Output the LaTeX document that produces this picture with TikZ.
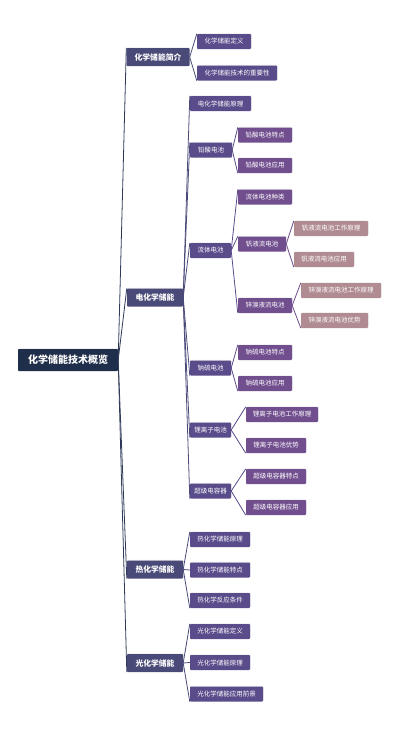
\documentclass[tikz,border=0pt]{standalone}
\usepackage{fontspec}
\newfontfamily\cjk{Noto Sans CJK SC}
\usetikzlibrary{shadows}
\definecolor{cRoot}{HTML}{1F2E4A}
\definecolor{cLone}{HTML}{4A4A78}
\definecolor{cLtwo}{HTML}{5A4B8A}
\definecolor{cLthree}{HTML}{714E8E}
\definecolor{cLfour}{HTML}{B08B92}
\definecolor{lkRoot}{HTML}{2E3A58}
\tikzset{
  box/.style={inner sep=0pt, text=white, rounded corners=0.8pt,
    drop shadow={opacity=0.15, shadow xshift=0.6pt, shadow yshift=0.6pt}},
  rootbox/.style={box, fill=cRoot, minimum height=22pt, font=\cjk\bfseries\fontsize{10}{12}\selectfont},
  lone/.style={box, fill=cLone, minimum height=18pt, font=\cjk\bfseries\fontsize{7.8}{9}\selectfont},
  ltwo/.style={box, fill=cLtwo, minimum height=15pt, font=\cjk\fontsize{6.5}{8}\selectfont},
  lthree/.style={box, fill=cLthree, minimum height=15pt, font=\cjk\fontsize{6.5}{8}\selectfont},
  lfour/.style={box, fill=cLfour, minimum height=15pt, font=\cjk\fontsize{6.5}{8}\selectfont},
  link/.style={line width=0.8pt},
  linkroot/.style={link, draw=lkRoot},
  linkone/.style={link, draw=cLone},
  linktwo/.style={link, draw=cLtwo},
  linkthree/.style={link, draw=cLthree}
}
\newcommand\mnode[6]{\node[#1, minimum width=#5pt] (#2) at (#3,#4) {#6};}
\begin{document}
\begin{tikzpicture}[x=1pt,y=-1pt]
\useasboundingbox[fill=white] (0,0) rectangle (400,736);
% root
\mnode{rootbox}{root}{68}{360}{100}{化学储能技术概览}
% level 1
\mnode{lone}{a}{158}{57}{63}{化学储能简介}
\mnode{lone}{b}{155}{297.5}{56}{电化学储能}
\mnode{lone}{c}{155}{569.5}{56}{热化学储能}
\mnode{lone}{d}{155}{663}{56}{光化学储能}
% level 2
\mnode{ltwo}{a1}{224}{41.5}{54}{化学储能定义}
\mnode{ltwo}{a2}{237}{73}{80}{化学储能技术的重要性}
\mnode{ltwo}{b1}{220.5}{103.5}{61}{电化学储能原理}
\mnode{ltwo}{b2}{211}{150}{42}{铅酸电池}
\mnode{ltwo}{b3}{210.5}{250.5}{41}{流体电池}
\mnode{ltwo}{b4}{210.5}{368}{41}{钠硫电池}
\mnode{ltwo}{b5}{210.5}{430}{41}{锂离子电池}
\mnode{ltwo}{b6}{210.5}{491}{41}{超级电容器}
\mnode{ltwo}{c1}{220}{539.5}{60}{热化学储能原理}
\mnode{ltwo}{c2}{220}{570}{60}{热化学储能特点}
\mnode{ltwo}{c3}{220}{600.5}{60}{热化学反应条件}
\mnode{ltwo}{d1}{220}{631.5}{60}{光化学储能定义}
\mnode{ltwo}{d2}{220}{662.5}{60}{光化学储能原理}
\mnode{ltwo}{d3}{226.5}{694}{73}{光化学储能应用前景}
% level 3
\mnode{lthree}{b21}{265}{135}{54}{铅酸电池特点}
\mnode{lthree}{b22}{265}{165.5}{54}{铅酸电池应用}
\mnode{lthree}{b31}{265}{197}{54}{流体电池种类}
\mnode{lthree}{b32}{262}{244}{48}{钒液流电池}
\mnode{lthree}{b33}{265}{305.5}{54}{锌溴液流电池}
\mnode{lthree}{b41}{265}{352.5}{54}{钠硫电池特点}
\mnode{lthree}{b42}{265}{383.5}{54}{钠硫电池应用}
\mnode{lthree}{b51}{282}{414.5}{72}{锂离子电池工作原理}
\mnode{lthree}{b52}{276}{445.5}{60}{锂离子电池优势}
\mnode{lthree}{b61}{276}{476.5}{60}{超级电容器特点}
\mnode{lthree}{b62}{276}{507.5}{60}{超级电容器应用}
% level 4
\mnode{lfour}{b321}{331}{228.5}{74}{钒液流电池工作原理}
\mnode{lfour}{b322}{324}{259.5}{60}{钒液流电池应用}
\mnode{lfour}{b331}{341}{290.5}{80}{锌溴液流电池工作原理}
\mnode{lfour}{b332}{334.5}{320.5}{67}{锌溴液流电池优势}
% connectors: root
\draw[linkroot] (root.east) -- (a.north west);
\draw[linkroot] (root.east) -- (b.north west);
\draw[linkroot] (root.east) -- (c.south west);
\draw[linkroot] (root.east) -- (d.south west);
% level 1 -> 2
\draw[linkone] (a.east) -- (a1.north west);
\draw[linkone] (a.east) -- (a2.south west);
\draw[linkone] (b.east) -- (b1.north west);
\draw[linkone] (b.east) -- (b2.north west);
\draw[linkone] (b.east) -- (b3.north west);
\draw[linkone] (b.east) -- (b4.south west);
\draw[linkone] (b.east) -- (b5.south west);
\draw[linkone] (b.east) -- (b6.south west);
\draw[linkone] (c.east) -- (c1.north west);
\draw[linkone] (c.east) -- (c2.west);
\draw[linkone] (c.east) -- (c3.south west);
\draw[linkone] (d.east) -- (d1.north west);
\draw[linkone] (d.east) -- (d2.west);
\draw[linkone] (d.east) -- (d3.south west);
% level 2 -> 3
\draw[linktwo] (b2.east) -- (b21.north west);
\draw[linktwo] (b2.east) -- (b22.south west);
\draw[linktwo] (b3.east) -- (b31.north west);
\draw[linktwo] (b3.east) -- (b32.north west);
\draw[linktwo] (b3.east) -- (b33.south west);
\draw[linktwo] (b4.east) -- (b41.north west);
\draw[linktwo] (b4.east) -- (b42.south west);
\draw[linktwo] (b5.east) -- (b51.north west);
\draw[linktwo] (b5.east) -- (b52.south west);
\draw[linktwo] (b6.east) -- (b61.north west);
\draw[linktwo] (b6.east) -- (b62.south west);
% level 3 -> 4
\draw[linkthree] (b32.east) -- (b321.north west);
\draw[linkthree] (b32.east) -- (b322.south west);
\draw[linkthree] (b33.east) -- (b331.north west);
\draw[linkthree] (b33.east) -- (b332.south west);
\end{tikzpicture}
\end{document}
